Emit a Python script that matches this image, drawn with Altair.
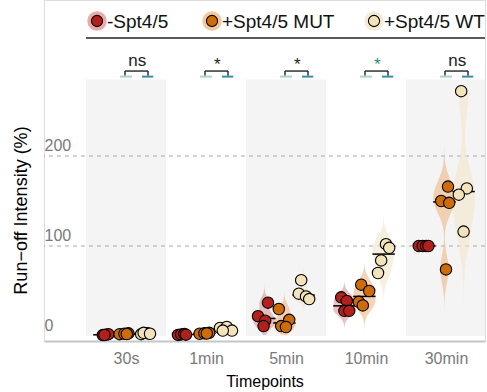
import altair as alt
import pandas as pd

# ---------------- data ----------------
timepoints = ["30s", "1min", "5min", "10min", "30min"]
groups = ["-Spt4/5", "+Spt4/5 MUT", "+Spt4/5 WT"]

neg_values = [[1.0, 1.5, 2.0, 1.2], [1.2, 1.8, 2.2, 1.5], [37, 22, 17, 11],
              [43, 39, 28, 28], [100, 100, 100, 100]]
mut_values = [[2.0, 2.5, 3.0, 2.2], [2.5, 3.0, 3.5, 2.8], [30, 18, 11, 10],
              [57, 50, 38, 34], [166, 150, 148, 74]]
wt_values = [[2.0, 3.0, 3.5, 2.5], [9, 10, 6, 6], [62, 47, 44, 41],
             [102, 98, 84, 70], [272, 164, 157, 116]]
significance = ["ns", "*", "*", "*", "ns"]
y_ticks = [0, 100, 200]
grid_values = [100, 200]

# ---------------- style ----------------
FONT = "Liberation Sans"
point_colors = ["#b3201b", "#cf6c0a", "#f2e3bb"]
violin_colors = ["#d9979a", "#ecb784", "#f1e6c9"]
halo_colors = ["#e3a3a1", "#f1c293", "#f3e9d2"]
sig_colors = ["#222222", "#222222", "#222222", "#2f8c7d", "#222222"]
group_offsets = [-0.27, -0.02, 0.22]
jitter = [
    [[-0.02, 0.02, 0.05, 0.0], [-0.08, -0.04, 0.0, 0.02], [0.045, -0.08, 0.01, -0.01],
     [-0.04, 0.03, 0.0, 0.06], [-0.07, -0.02, 0.02, 0.05]],
    [[-0.06, 0.0, 0.05, 0.03], [-0.06, 0.0, 0.06, 0.03], [-0.07, 0.06, -0.04, 0.02],
     [-0.04, 0.06, -0.07, -0.02], [0.045, -0.04, 0.06, 0.02]],
    [[-0.03, 0.05, 0.0, 0.08], [-0.045, 0.04, 0.105, -0.01], [-0.03, -0.06, 0.03, 0.07],
     [0.03, 0.07, -0.03, -0.07], [-0.03, 0.04, -0.06, 0.0]],
]

rows = []
for gi, (g, vals) in enumerate(zip(groups, [neg_values, mut_values, wt_values])):
    for ti, t in enumerate(timepoints):
        for pi, v in enumerate(vals[ti]):
            rows.append({"time": t, "ti": ti, "group": g, "gi": gi,
                         "off": group_offsets[gi], "jit": jitter[gi][ti][pi],
                         "value": v})
df = pd.DataFrame(rows)
# groups whose values all coincide get no violin
spread = df.groupby(["ti", "group"])["value"].transform(lambda s: s.max() - s.min())
vdf = df[spread > 0]

sig_df = pd.DataFrame({"ti": list(range(len(timepoints))), "sig": significance,
                       "col": sig_colors})
band_df = pd.DataFrame({"ti": [0, 2, 4]})
grid_df = pd.DataFrame({"v": grid_values})

xs = alt.Scale(domain=[-1.025, 4.4875], nice=False, zero=False)
ys = alt.Scale(domain=[-5.556, 373.33], nice=False, zero=False)
label_expr = "[" + ",".join("'%s'" % t for t in timepoints) + "][datum.value]"
x_axis = alt.Axis(values=list(range(len(timepoints))), labelExpr=label_expr,
                  title="Timepoints", grid=False, ticks=False,
                  domainColor="#c6c6c6", domainWidth=2, labelColor="#7a7a7a",
                  labelFontSize=16, labelPadding=9, titleFontSize=16,
                  titleFontWeight="normal", titleColor="black", titlePadding=7,
                  labelFont=FONT, titleFont=FONT)
y_axis = alt.Axis(values=y_ticks, title="Run\u2212off Intensity (%)", grid=False,
                  domain=False, ticks=False, labelAlign="left",
                  labelBaseline="middle", labelOffset=-10, labelPadding=0,
                  labelColor="#7a7a7a", labelFontSize=16, titleFontSize=18,
                  titleFontWeight="normal", titleColor="black", titlePadding=12,
                  titleY=210, titleX=-14, titleBaseline="bottom",
                  labelFont=FONT, titleFont=FONT)


def X(f):
    return alt.X(f, type="quantitative", scale=xs, axis=x_axis)


def Y(f):
    return alt.Y(f, type="quantitative", scale=ys, axis=y_axis)


def YD(v):
    return alt.Y(datum=v, type="quantitative", scale=ys, axis=y_axis)


bands = alt.Chart(band_df).transform_calculate(
    xa="datum.ti - 0.5", xb="datum.ti + 0.5", ya="0", yb="285"
).mark_rect(color="#f4f4f4", clip=True).encode(
    x=X("xa"), x2="xb", y=Y("ya"), y2="yb")

grid = alt.Chart(grid_df).mark_rule(color="#a9a9a9", strokeDash=[4, 4],
                                    strokeWidth=1).encode(y=Y("v"))

violins = alt.Chart(vdf).transform_density(
    "value", groupby=["ti", "off", "group"], as_=["value", "density"]
).transform_joinaggregate(
    maxd="max(density)", groupby=["ti", "group"]
).transform_calculate(
    xl="datum.ti + datum.off - datum.density / datum.maxd * 0.14",
    xr="datum.ti + datum.off + datum.density / datum.maxd * 0.14",
).mark_area(orient="horizontal", opacity=0.6).encode(
    y=Y("value"), x=X("xl"), x2="xr",
    color=alt.Color("group:N", scale=alt.Scale(domain=groups, range=violin_colors),
                    legend=None),
    detail=["ti:N", "group:N"])

medians = alt.Chart(df).transform_aggregate(
    med="median(value)", groupby=["ti", "off", "group"]
).transform_calculate(
    xa="datum.ti + datum.off - 0.14", xb="datum.ti + datum.off + 0.14"
).mark_rule(color="black", strokeWidth=1.5).encode(
    x=X("xa"), x2="xb", y=Y("med"))

points = alt.Chart(df).transform_calculate(
    xp="datum.ti + datum.off + datum.jit"
).mark_point(filled=True, size=130, stroke="black", strokeWidth=1.1,
             opacity=1).encode(
    x=X("xp"), y=Y("value"),
    fill=alt.Fill("group:N", scale=alt.Scale(domain=groups, range=point_colors),
                  legend=None))

sig_base = alt.Chart(sig_df)
bracket_top = sig_base.transform_calculate(
    xa="datum.ti - 0.0125", xb="datum.ti + 0.275"
).mark_rule(color="#222222", strokeWidth=1.4).encode(x=X("xa"), x2="xb", y=YD(294.4))
bracket_l = sig_base.transform_calculate(xa="datum.ti - 0.0125").mark_rule(
    color="#222222", strokeWidth=1.4).encode(x=X("xa"), y=YD(294.4), y2=alt.Y2(datum=289.2))
bracket_r = sig_base.transform_calculate(xa="datum.ti + 0.275").mark_rule(
    color="#222222", strokeWidth=1.4).encode(x=X("xa"), y=YD(294.4), y2=alt.Y2(datum=289.2))
teal_l = sig_base.transform_calculate(
    xa="datum.ti - 0.075", xb="datum.ti + 0.075"
).mark_rule(color="#a3d9cc", strokeWidth=2).encode(x=X("xa"), x2="xb", y=YD(288.2))
teal_r = sig_base.transform_calculate(
    xa="datum.ti + 0.2", xb="datum.ti + 0.34"
).mark_rule(color="#3a8ea3", strokeWidth=2).encode(x=X("xa"), x2="xb", y=YD(288.2))
sig_text = sig_base.transform_calculate(
    xa="datum.ti + 0.14", ya="datum.sig == 'ns' ? 300 : 295.5"
).mark_text(fontSize=17, font=FONT, baseline="alphabetic", align="center").encode(
    x=X("xa"), y=Y("ya"), text="sig:N",
    color=alt.Color("col:N", scale=None))

# ---------------- manual legend (pixel offsets from plot's left edge) ----------------
legend_x = [53, 168, 330]
legend_layers = []
for i, g in enumerate(groups):
    one = alt.Chart(pd.DataFrame({"label": [g]}))
    legend_layers.append(one.mark_point(filled=True, size=380, color=halo_colors[i],
                                        opacity=0.9).encode(
        x=alt.value(legend_x[i]), y=alt.value(21)))
    legend_layers.append(one.mark_point(filled=True, size=125, fill=point_colors[i],
                                        stroke="black", strokeWidth=1.1,
                                        opacity=1).encode(
        x=alt.value(legend_x[i]), y=alt.value(21)))
    legend_layers.append(one.mark_text(align="left", baseline="middle", fontSize=19,
                                       font=FONT, color="#111111").encode(
        x=alt.value(legend_x[i] + 10), y=alt.value(22), text="label:N"))
legend_line = alt.Chart(pd.DataFrame({"a": [0]})).mark_rule(
    color="#222222", strokeWidth=1.5).encode(
    x=alt.value(42), x2=alt.value(441), y=alt.value(38))

chart = alt.layer(
    bands, grid, violins, medians, points,
    bracket_top, bracket_l, bracket_r, teal_l, teal_r, sig_text,
    *legend_layers, legend_line
).resolve_scale(
    color="independent", fill="independent"
).properties(
    width=441, height=341,
    autosize=alt.AutoSizeParams(type="none"),
    padding={"left": 44, "top": 0, "right": 2, "bottom": 51},
).configure_view(stroke=None).configure(font=FONT)

chart.save("out.html", embed_options={"renderer": "svg", "actions": False})
